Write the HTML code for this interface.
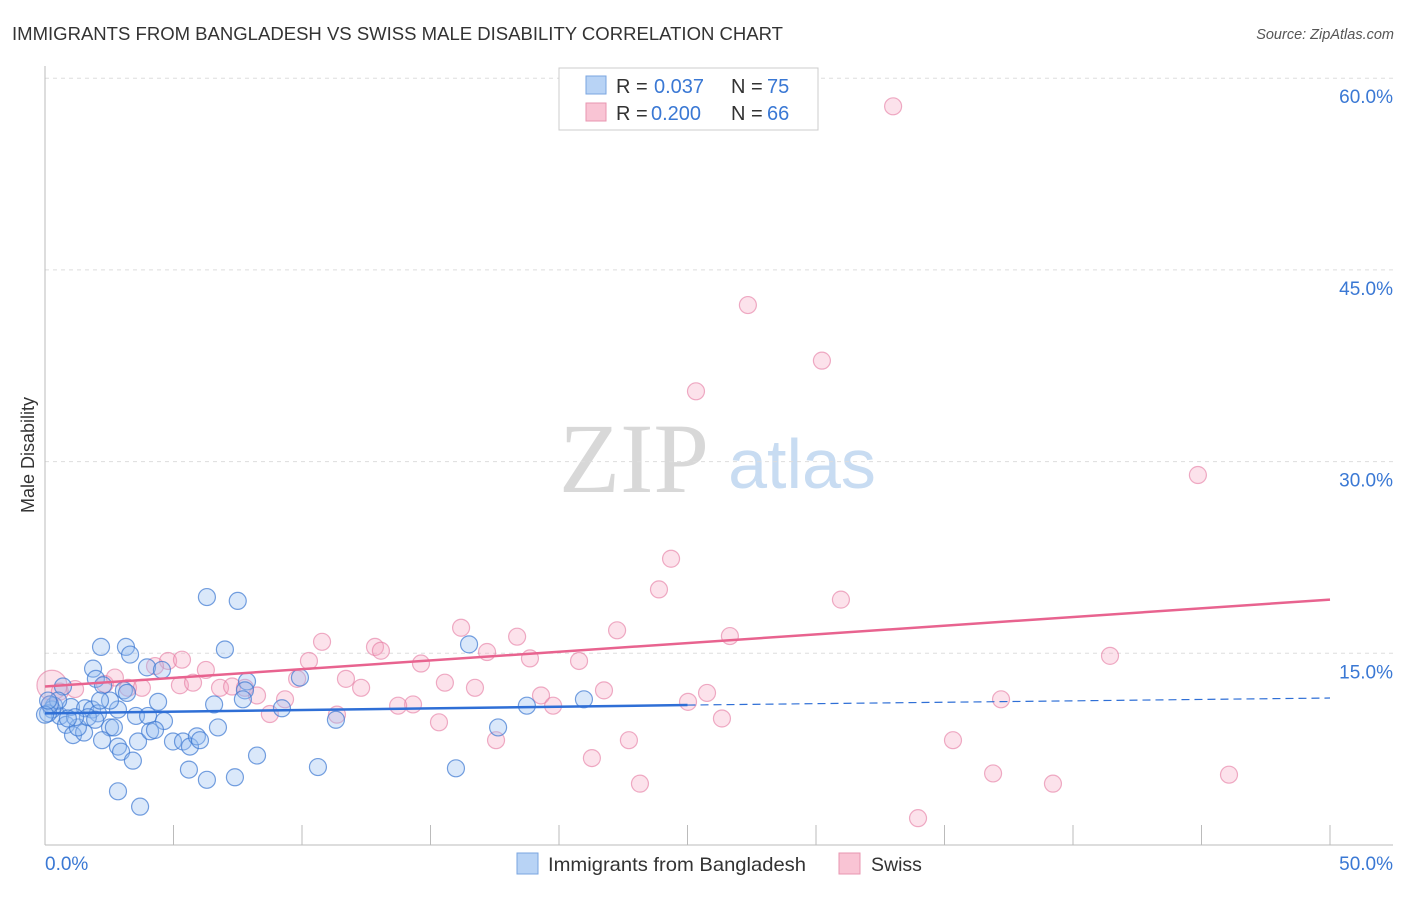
<!DOCTYPE html>
<html><head><meta charset="utf-8"><style>
body{margin:0;background:#fff;font-family:"Liberation Sans",sans-serif;}
</style></head><body>
<svg id="chart" width="1406" height="892" viewBox="0 0 1406 892" xmlns="http://www.w3.org/2000/svg" font-family="Liberation Sans, sans-serif">
<text x="12" y="40" font-size="18" fill="#333" textLength="771" lengthAdjust="spacingAndGlyphs">IMMIGRANTS FROM BANGLADESH VS SWISS MALE DISABILITY CORRELATION CHART</text>
<text x="1394" y="39" font-size="14.5" fill="#555" font-style="italic" text-anchor="end">Source: ZipAtlas.com</text>
<text transform="translate(34,455) rotate(-90)" font-size="18" fill="#333" text-anchor="middle">Male Disability</text>
<g>
<text x="634" y="492" font-size="100" fill="#d8d8d8" style="font-family:'Liberation Serif',serif" text-anchor="middle">ZIP</text>
<text x="802" y="488" font-size="70" fill="#c8dcf2" text-anchor="middle">atlas</text>
</g>
<g id="grid"></g><g id="axes"></g><g id="points"></g><g id="trends"></g>
<g>
<rect x="559" y="68" width="259" height="62" fill="#fff" stroke="#ccc"/>
<rect x="586" y="76" width="20" height="18" fill="#b8d3f5" stroke="#7aa6e0"/>
<text x="616" y="93" font-size="20" fill="#333">R =</text>
<text x="654" y="93" font-size="20" fill="#3a78d4">0.037</text>
<text x="731" y="93" font-size="20" fill="#333">N =</text>
<text x="767" y="93" font-size="20" fill="#3a78d4">75</text>
<rect x="586" y="103" width="20" height="18" fill="#f9c4d4" stroke="#e896b0"/>
<text x="616" y="120" font-size="20" fill="#333">R =</text>
<text x="651" y="120" font-size="20" fill="#3a78d4">0.200</text>
<text x="731" y="120" font-size="20" fill="#333">N =</text>
<text x="767" y="120" font-size="20" fill="#3a78d4">66</text>
</g>
<g>
<rect x="517" y="853" width="21" height="21" fill="#b8d3f5" stroke="#7aa6e0"/>
<text x="548" y="871" font-size="19.5" fill="#333" textLength="258" lengthAdjust="spacingAndGlyphs">Immigrants from Bangladesh</text>
<rect x="839" y="853" width="21" height="21" fill="#f9c4d4" stroke="#e896b0"/>
<text x="871" y="871" font-size="19.5" fill="#333">Swiss</text>
</g>
</svg>
<script>
const xTicks=[0,5,10,15,20,25,30,35,40,45,50];
const yTicks=[15,30,45,60];
const blueX=[6.3,7.5,2.18,3.15,3.31,7.0,3.97,1.87,4.55,16.5,1.98,3.07,7.86,9.92,7.78,2.26,0.70,0.35,0.58,0.27,1.01,1.56,1.83,2.06,2.84,4.40,6.58,7.70,9.22,3.54,4.01,4.63,11.32,18.75,20.97,17.63,0.12,0.82,1.09,1.52,2.53,2.68,3.62,2.84,4.98,5.37,5.64,5.91,6.73,2.96,3.42,8.25,5.60,6.30,7.39,10.62,15.99,2.84,3.70,1.28,1.67,4.09,4.28,3.19,2.53,6.03,1.17,1.95,2.22,0.89,0.51,0.19,2.14,0.0,0.12];
const blueY=[19.4,19.1,15.5,15.5,14.9,15.3,13.9,13.8,13.7,15.7,13.0,12.1,12.8,13.1,12.1,12.5,12.4,10.9,10.1,10.6,10.8,10.7,10.6,10.3,10.6,11.2,11.0,11.4,10.7,10.1,10.1,9.7,9.8,10.9,11.4,9.2,10.3,9.4,8.6,8.8,9.2,9.2,8.1,7.7,8.1,8.1,7.7,8.5,9.2,7.3,6.6,7.0,5.9,5.1,5.3,6.1,6.0,4.2,3.0,9.2,10.0,8.9,9.0,11.9,11.3,8.2,10.0,9.8,8.2,9.9,11.3,11.0,11.3,10.2,11.3];
const pinkX=[33.0,27.35,30.23,25.33,44.86,24.36,23.89,30.97,16.19,10.78,18.37,22.26,26.65,12.84,13.07,17.2,4.79,10.27,14.63,6.26,20.78,18.87,41.44,11.71,15.56,16.73,12.3,5.25,5.76,6.81,7.28,8.25,9.34,21.75,19.3,25.76,25.02,14.32,13.74,19.77,8.75,11.36,15.33,26.34,37.2,17.55,22.72,35.33,21.28,36.89,46.07,39.22,23.15,33.97,0.27,0.58,1.17,2.33,2.72,3.23,3.77,4.28,7.78,9.81,5.33,0.19];
const pinkY=[57.8,42.25,37.9,35.5,28.95,22.4,20.0,19.2,17.0,15.9,16.3,16.8,16.35,15.5,15.2,15.1,14.4,14.4,14.2,13.7,14.4,14.6,14.8,13.0,12.7,12.3,12.3,12.5,12.7,12.3,12.4,11.7,11.4,12.1,11.7,11.9,11.2,11.0,10.9,10.9,10.25,10.2,9.6,9.9,11.4,8.2,8.2,8.2,6.8,5.6,5.5,4.8,4.8,2.1,12.5,12.0,12.2,12.6,13.1,12.3,12.3,14.0,12.3,13.0,14.5,11.0];
const blueTrend=[10.3,10.95,11.5]; // at x=0, 25, 50
const pinkTrend=[12.4,19.2]; // at x=0, 50
const X=v=>45+v*25.7, Y=v=>845-v*12.78;
const NS="http://www.w3.org/2000/svg";
function mk(tag,attrs,parent){const e=document.createElementNS(NS,tag);for(const k in attrs)e.setAttribute(k,attrs[k]);document.getElementById(parent).appendChild(e);return e;}
yTicks.forEach(t=>{
 const l=mk('line',{x1:45,x2:1393,y1:Y(t),y2:Y(t),stroke:'#ddd','stroke-dasharray':'4,4'},'grid');
 
 
 const tx=mk('text',{x:1393,y:Y(t)+25,'font-size':19,fill:'#3a78d4','text-anchor':'end'},'grid');
 tx.textContent=t.toFixed(1)+'%';
 
 
});
const ya=mk('line',{x1:45,x2:45,y1:66,y2:845,stroke:'#bbb'},'axes');


const xa=mk('line',{x1:45,x2:1393,y1:845,y2:845,stroke:'#bbb'},'axes');


xTicks.forEach(t=>{
 const l=mk('line',{x1:X(t),x2:X(t),y1:825,y2:845,stroke:'#bbb'},'axes');
 
 
});
[[0,'start'],[50,'end']].forEach(([t,a])=>{
 const tx=mk('text',{x:t==0?45:1393,y:870,'font-size':19,fill:'#3a78d4','text-anchor':a},'axes');
 tx.textContent=t.toFixed(1)+'%';
 
 
});
pinkX.forEach((x,i)=>{
 const c=mk('circle',{cx:X(x),cy:Y(pinkY[i]),r:i==54?15:8.5,fill:'rgba(245,160,190,0.3)',stroke:'rgba(228,120,160,0.6)','stroke-width':1.2},'points');
 
 
});
blueX.forEach((x,i)=>{
 const c=mk('circle',{cx:X(x),cy:Y(blueY[i]),r:8.5,fill:'rgba(150,190,240,0.35)',stroke:'rgba(60,120,210,0.7)','stroke-width':1.2},'points');
 
 
});
const b1=mk('line',{x1:X(0),y1:Y(blueTrend[0]),x2:X(25),y2:Y(blueTrend[1]),stroke:'#2f6fd6','stroke-width':2.5},'trends');


const b2=mk('line',{x1:X(25),y1:Y(blueTrend[1]),x2:X(50),y2:Y(blueTrend[2]),stroke:'#2f6fd6','stroke-width':1.2,'stroke-dasharray':'8,5'},'trends');


const p1=mk('line',{x1:X(0),y1:Y(pinkTrend[0]),x2:X(50),y2:Y(pinkTrend[1]),stroke:'#e8638f','stroke-width':2.5},'trends');


</script>
</body></html>
